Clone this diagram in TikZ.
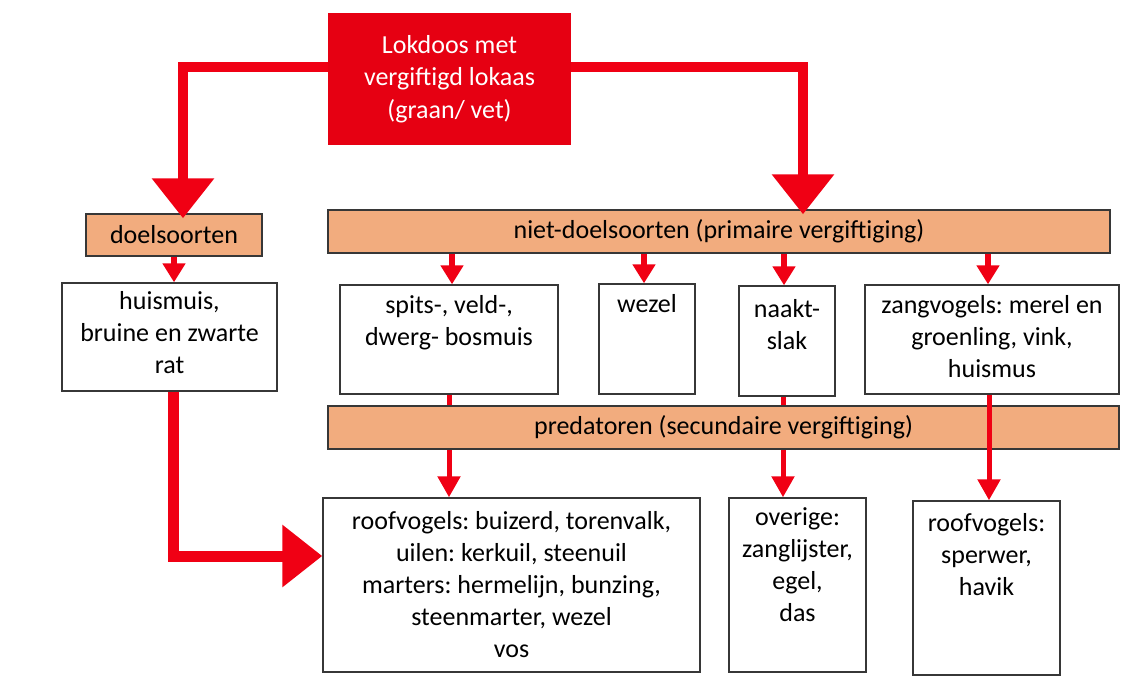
\documentclass[tikz,border=0pt]{standalone}
\usepackage{fontspec}
\setmainfont{Carlito}
\frenchspacing
\usetikzlibrary{arrows.meta,calc}
\definecolor{arrred}{RGB}{240,0,20}
\definecolor{boxred}{RGB}{230,0,18}
\definecolor{barorange}{RGB}{242,172,126}
\definecolor{edgegray}{RGB}{55,55,55}
\tikzset{
  whitebox/.style={draw=edgegray, line width=1.4pt, fill=white, inner sep=0pt},
  barbox/.style={draw=edgegray, line width=1.4pt, fill=barorange, inner sep=0pt,
    font=\fontsize{26}{32}\selectfont},
  boxtxt/.style={font=\fontsize{26}{32}\selectfont, align=center, inner sep=0pt, anchor=north},
  bigarr/.style={draw=arrred, line width=10.5pt, -{Triangle[width=60pt,length=40pt]}, shorten >=-5pt},
  midarr/.style={draw=arrred, line width=5pt, -{Triangle[width=22pt,length=21pt]}},
  smallarr/.style={draw=arrred, line width=6pt, -{Triangle[width=22pt,length=19pt]}},
}
\begin{document}
\begin{tikzpicture}[x=1pt,y=-1pt]
\useasboundingbox (0,0) rectangle (1129,689);
\fill[white] (0,0) rectangle (1129,689);

% top red box
\node[fill=boxred, text=white, inner sep=0pt, minimum width=243pt, minimum height=132pt,
  align=center, font=\fontsize{26}{32.5}\selectfont] (lok) at (449.5,79)
  {Lokdoos met\\vergiftigd lokaas\\(graan/ vet)};

% category bars
\node[barbox, minimum width=176pt, minimum height=42pt] (doel) at (174,235) {doelsoorten};
\node[barbox, minimum width=782pt, minimum height=43pt] (niet) at (719,231.5) {niet-doelsoorten (primaire vergiftiging)};

% middle row
\node[whitebox, minimum width=215pt, minimum height=108pt] (huis) at (169.5,337) {};
\node[boxtxt] (huisT) at ($(huis.north)+(0,5)$) {\strut huismuis,\\bruine en zwarte\\rat};
\node[whitebox, minimum width=218pt, minimum height=109pt] (spits) at (449,339.5) {};
\node[boxtxt] (spitsT) at ($(spits.north)+(0,7)$) {\strut spits-, veld-,\\dwerg- bosmuis};
\node[whitebox, minimum width=96pt, minimum height=110pt] (wezel) at (647,339) {};
\node[boxtxt] (wezelT) at ($(wezel.north)+(0,7)$) {\strut wezel};
\node[whitebox, minimum width=96pt, minimum height=110pt] (naakt) at (787,341) {};
\node[boxtxt] (naaktT) at ($(naakt.north)+(0,10)$) {\strut naakt-\\slak};
\node[whitebox, minimum width=254pt, minimum height=109pt] (zang) at (992,339.5) {};
\node[boxtxt] (zangT) at ($(zang.north)+(0,7)$) {\strut zangvogels: merel en\\groenling, vink,\\huismus};

% bottom row
\node[whitebox, minimum width=377pt, minimum height=174pt] (big) at (511.5,585) {};
\node[boxtxt] (bigT) at ($(big.north)+(0,10)$) {\strut roofvogels: buizerd, torenvalk,\\uilen: kerkuil, steenuil\\marters: hermelijn, bunzing,\\steenmarter, wezel\\vos};
\node[whitebox, minimum width=137pt, minimum height=174pt] (over) at (797.5,585) {};
\node[boxtxt] (overT) at ($(over.north)+(0,6)$) {\strut overige:\\zanglijster,\\egel,\\das};
\node[whitebox, minimum width=147pt, minimum height=174pt] (sper) at (986.5,588) {};
\node[boxtxt] (sperT) at ($(sper.north)+(0,9)$) {\strut roofvogels:\\sperwer,\\havik};

% lines passing behind the predator bar
\draw[midarr] (spits.south) -- (spits.south |- big.north);
\draw[midarr] ($(naakt.south)+(-4,0)$) -- ($(naakt.south |- over.north)+(-4,0)$);

\node[barbox, minimum width=791pt, minimum height=43pt] (pred) at (723.5,427.5) {predatoren (secundaire vergiftiging)};

% line passing over the predator bar
\draw[midarr] ($(zang.south)+(-3,0)$) -- ($(zang.south |- sper.north)+(-3,0)$);

% big arrows from the top box
\draw[bigarr] ($(lok.west)+(0,-12)$) -| ($(doel.north)+(9,0)$);
\draw[bigarr] ($(lok.east)+(0,-12)$) -| ($(niet.north)+(84,0)$);

% small arrows
\draw[smallarr] (doel.south) -- (doel.south |- huis.north);
\draw[smallarr] ($(niet.south -| spits.north)+(3,0)$) -- ($(spits.north)+(3,0)$);
\draw[smallarr] ($(niet.south -| wezel.north)+(-3,0)$) -- ($(wezel.north)+(-3,0)$);
\draw[smallarr] ($(niet.south -| naakt.north)+(-3,0)$) -- ($(naakt.north)+(-3,0)$);
\draw[smallarr] ($(niet.south -| zang.north)+(-4,0)$) -- ($(zang.north)+(-4,0)$);

% target species to predators
\draw[bigarr, line width=11pt, shorten >=0pt] ($(huis.south)+(4,0)$) |- ($(big.west)+(0,-29)$);
\end{tikzpicture}
\end{document}
